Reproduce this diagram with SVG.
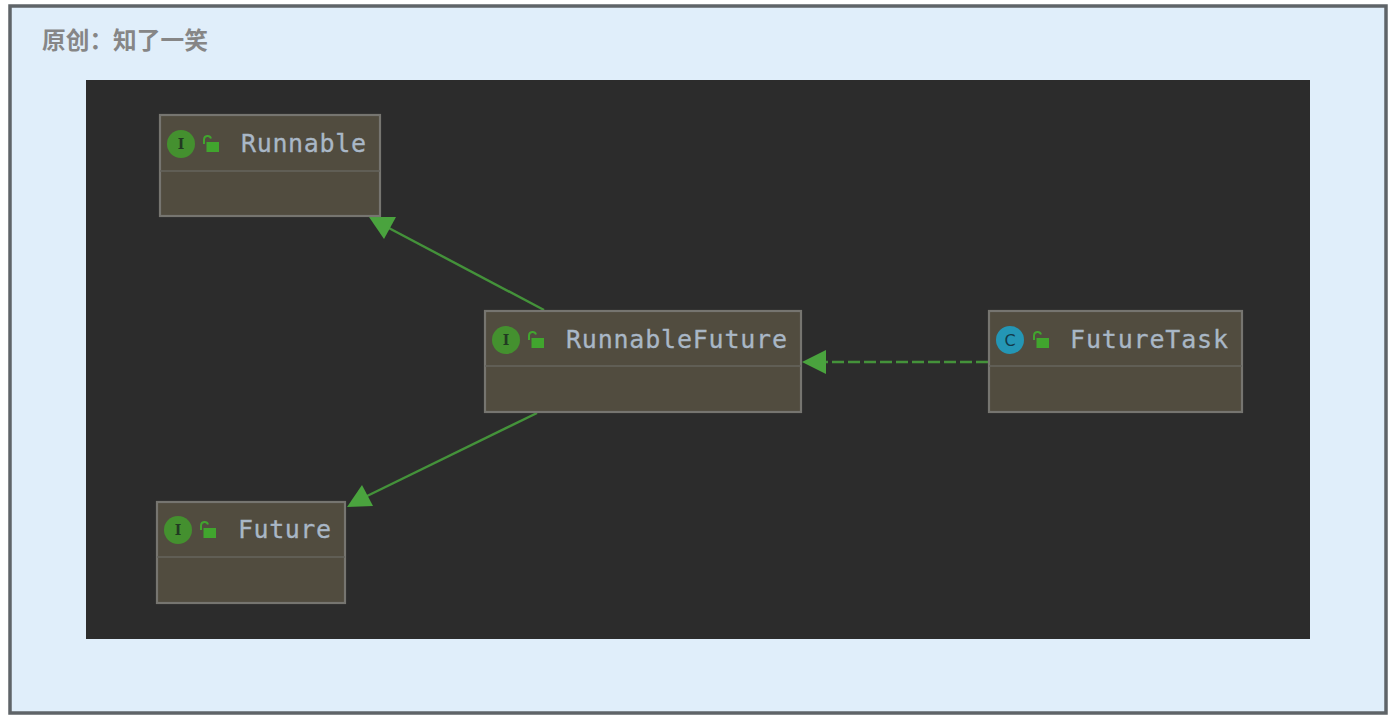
<svg xmlns="http://www.w3.org/2000/svg" width="1400" height="719" viewBox="0 0 1400 719">
<style>
.box{fill:#514c3f;stroke:#767570;stroke-width:2.2}
.sep{stroke:#66645e;stroke-width:1.5}
.name{font-family:"DejaVu Sans Mono","Liberation Mono",monospace;font-size:25px;font-weight:500;fill:#a9b7c6;stroke:#a9b7c6;stroke-width:.3}
.i{fill:#44902f}
.c{fill:#2496b5}
.g{font-family:"DejaVu Serif","Liberation Serif",serif;font-size:14px;font-weight:700;fill:#223a22;text-anchor:middle}
.gc{font-family:"DejaVu Sans","Liberation Sans",sans-serif;font-size:16px;fill:#123a4a;text-anchor:middle}
.lock{fill:#41a52e}
.shackle{fill:none;stroke:#41a52e;stroke-width:2}
.edge{stroke:#44923a;stroke-width:2.4;fill:none}
.head{fill:#4aa33e}
</style>
<defs>
<g id="lock">
<path class="shackle" d="M1 0 V-4.5 A3.6 3.6 0 0 1 8 -5.5"/>
<rect class="lock" x="3.5" y="-2" width="12.5" height="10"/>
</g>
</defs>
<rect x="0" y="0" width="1400" height="719" fill="#fff"/>
<rect x="10" y="6" width="1376" height="707" fill="#e0eefa" stroke="#5f6468" stroke-width="3.5"/>
<text x="42" y="49" font-family="'Noto Sans CJK SC',sans-serif" font-size="23.7" font-weight="700" fill="#868686">原创：知了一笑</text>
<rect x="86" y="80" width="1224" height="559" fill="#2c2c2c"/>
<g id="connectors">
<line class="edge" x1="544" y1="310" x2="385" y2="226"/>
<polygon class="head" points="369,217 396,217 384,239"/>
<line class="edge" x1="537" y1="413" x2="365" y2="497"/>
<polygon class="head" points="347,507 362,485 373,506"/>
<line class="edge" x1="988" y1="362" x2="825" y2="362" stroke-dasharray="12 4"/>
<polygon class="head" points="802,362 826,350 826,374"/>
</g>
<g id="runnable">
<rect class="box" x="160" y="115" width="220" height="101"/>
<line class="sep" x1="160" y1="171" x2="380" y2="171"/>
<circle class="i" cx="181" cy="144" r="14"/>
<text class="g" x="181" y="149">I</text>
<use href="#lock" x="203" y="144"/>
<text class="name" x="241" y="152" textLength="125">Runnable</text>
</g>
<g id="runnablefuture">
<rect class="box" x="485" y="311" width="316" height="101"/>
<line class="sep" x1="485" y1="366" x2="801" y2="366"/>
<circle class="i" cx="506" cy="340" r="14"/>
<text class="g" x="506" y="345">I</text>
<use href="#lock" x="528" y="340"/>
<text class="name" x="566" y="348" textLength="221">RunnableFuture</text>
</g>
<g id="futuretask">
<rect class="box" x="989" y="311" width="253" height="101"/>
<line class="sep" x1="989" y1="366" x2="1242" y2="366"/>
<circle class="c" cx="1010" cy="340" r="14"/>
<text class="gc" x="1010" y="346">C</text>
<use href="#lock" x="1033" y="340"/>
<text class="name" x="1070" y="348" textLength="158">FutureTask</text>
</g>
<g id="future">
<rect class="box" x="157" y="502" width="188" height="101"/>
<line class="sep" x1="157" y1="557" x2="345" y2="557"/>
<circle class="i" cx="178" cy="530" r="14"/>
<text class="g" x="178" y="535">I</text>
<use href="#lock" x="200" y="530"/>
<text class="name" x="238" y="538" textLength="93">Future</text>
</g>
</svg>
